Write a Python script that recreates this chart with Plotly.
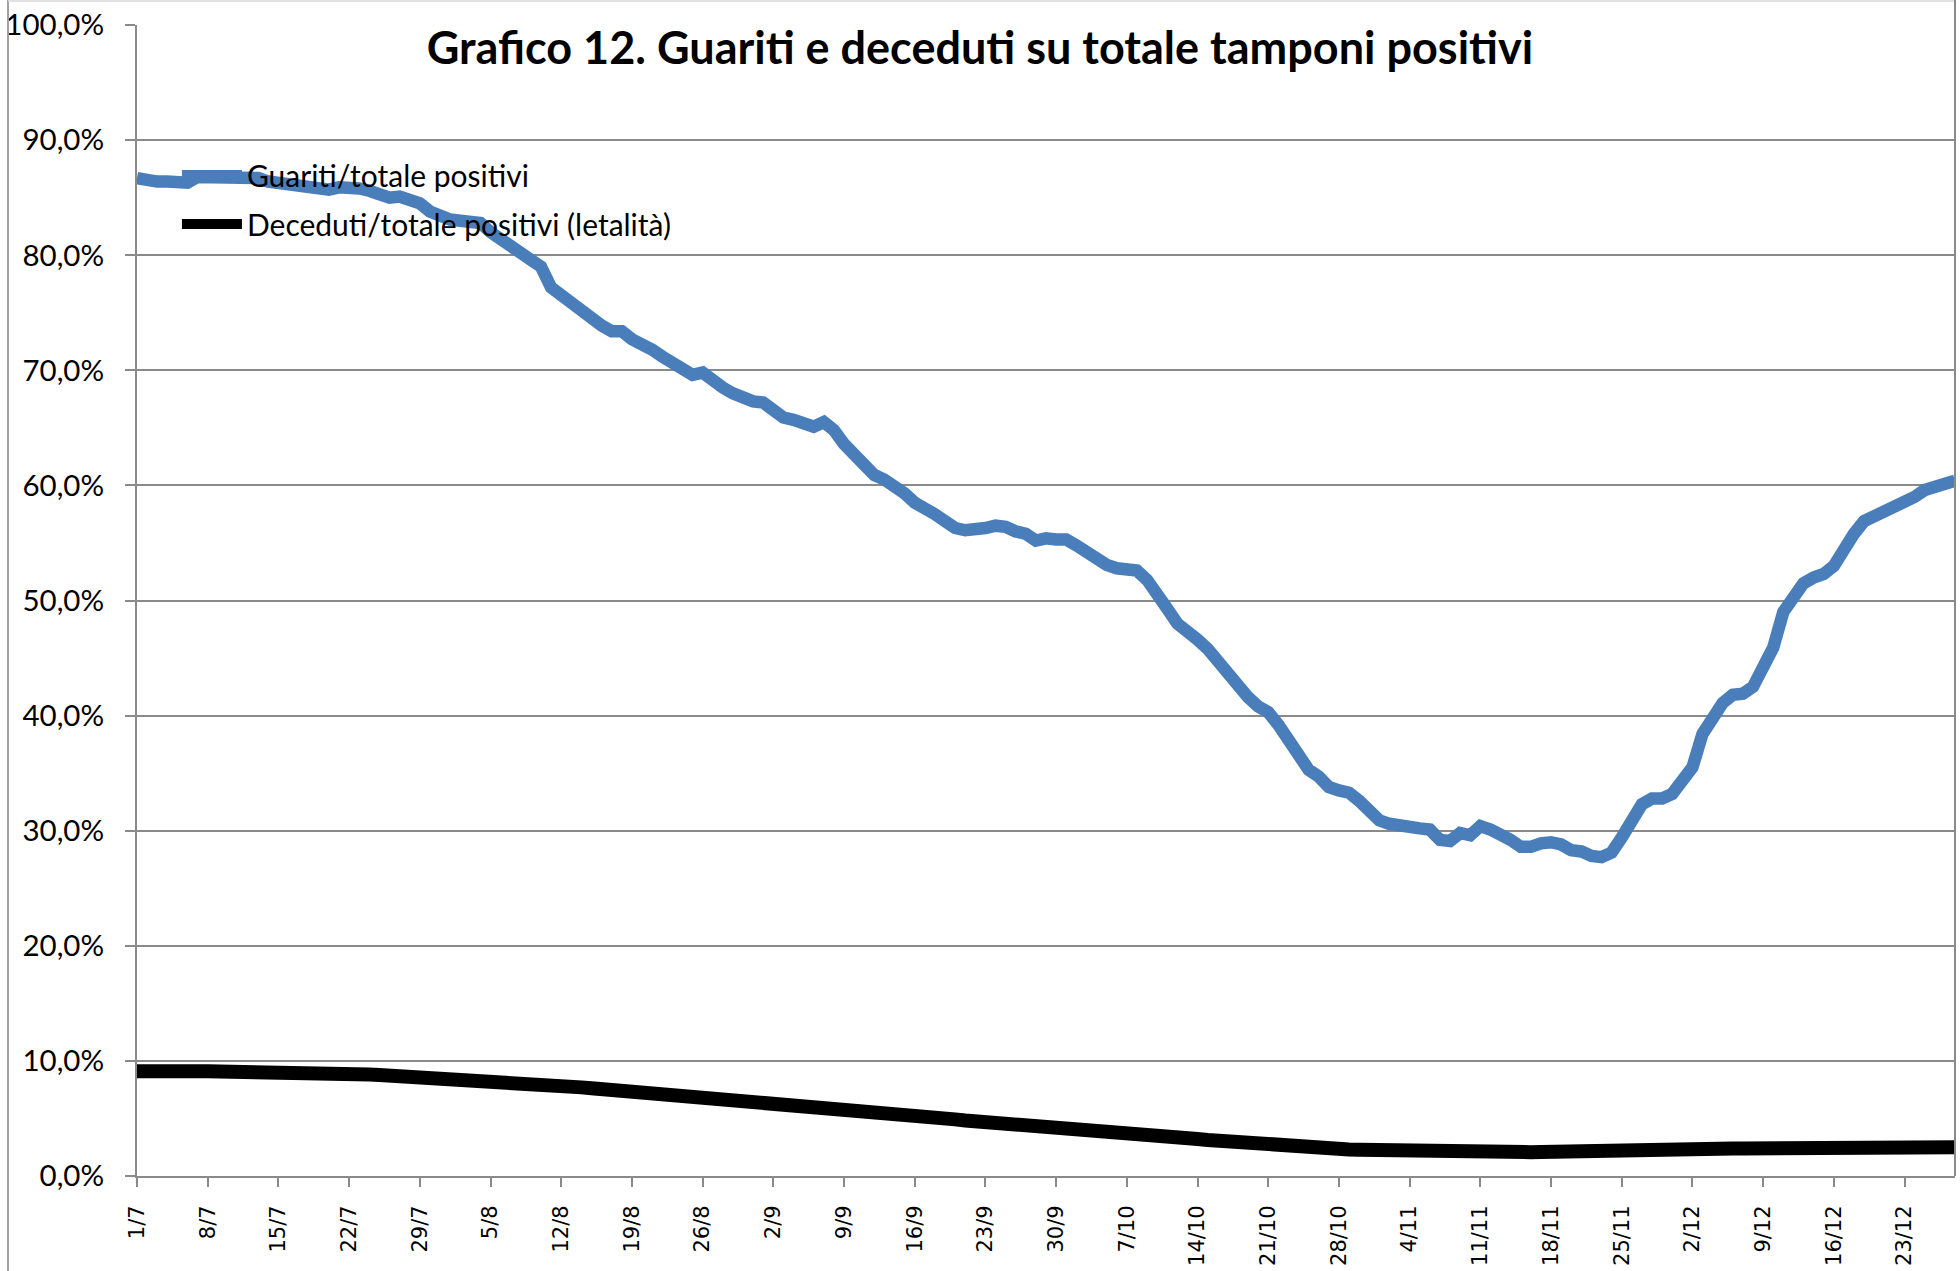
import pandas as pd
import plotly.graph_objects as go

# Dates: 1/7 -> 28/12 (2020), one point per day
dates = pd.date_range("2020-07-01", "2020-12-28", freq="D")

guariti_pct = [
    86.7, 86.5, 86.4, 86.4, 86.3, 86.3, 86.8, 86.8, 86.8, 86.9,
    86.9, 86.9, 86.7, 86.4, 86.3, 86.1, 85.9, 85.8, 85.7, 85.7,
    85.9, 85.9, 85.8, 85.6, 85.3, 85.0, 85.1, 84.9, 84.5, 83.8,
    83.3, 83.1, 83.0, 82.9, 82.8, 82.0, 81.5, 80.7, 80.2, 79.6,
    79.0, 77.2, 76.5, 75.9, 75.2, 74.6, 73.9, 73.4, 73.4, 72.7,
    72.3, 71.8, 71.2, 70.6, 70.1, 69.6, 69.8, 69.0, 68.5, 68.0,
    67.6, 67.3, 67.2, 66.6, 65.9, 65.7, 65.4, 65.1, 65.5, 64.8,
    63.6, 62.7, 61.5, 60.9, 60.5, 60.0, 59.3, 58.5, 58.1, 57.5,
    56.9, 56.3, 56.1, 56.1, 56.3, 56.5, 56.4, 56.0, 55.8, 55.2,
    55.4, 55.3, 55.3, 54.8, 54.2, 53.8, 53.1, 52.8, 52.8, 52.6,
    51.8, 50.7, 49.3, 48.0, 47.4, 46.6, 45.8, 44.7, 43.5, 42.5,
    41.6, 40.8, 40.3, 39.2, 37.9, 36.6, 35.3, 34.7, 33.8, 33.5,
    33.3, 32.6, 31.7, 30.9, 30.6, 30.4, 30.3, 30.2, 30.1, 29.2,
    29.1, 29.8, 29.6, 30.4, 30.1, 29.7, 29.2, 28.6, 28.6, 28.9,
    29.0, 28.8, 28.3, 28.2, 27.8, 27.7, 28.1, 29.4, 30.9, 32.3,
    32.8, 32.8, 33.2, 34.2, 35.5, 38.4, 39.6, 41.1, 41.8, 41.9,
    42.5, 44.2, 45.9, 49.0, 50.4, 51.5, 52.0, 52.3, 53.0, 54.6,
    55.8, 56.9, 57.3, 57.6, 58.1, 58.6, 59.0, 59.6, 59.9, 60.0,
    60.4,
]

deceduti_pct = [
    9.10, 9.05, 9.05, 9.05, 9.05, 9.05, 9.10, 9.10, 9.10, 9.10,
    9.10, 9.10, 9.05, 9.00, 8.97, 8.95, 8.93, 8.92, 8.90, 8.90,
    8.88, 8.86, 8.84, 8.81, 8.77, 8.73, 8.69, 8.64, 8.58, 8.50,
    8.43, 8.39, 8.36, 8.35, 8.34, 8.32, 8.28, 8.22, 8.15, 8.07,
    8.00, 7.90, 7.82, 7.76, 7.70, 7.62, 7.55, 7.50, 7.47, 7.43,
    7.38, 7.32, 7.25, 7.17, 7.08, 6.97, 6.89, 6.83, 6.78, 6.73,
    6.68, 6.62, 6.54, 6.46, 6.37, 6.25, 6.12, 6.02, 5.94, 5.87,
    5.80, 5.73, 5.65, 5.55, 5.46, 5.39, 5.35, 5.31, 5.27, 5.18,
    5.05, 4.92, 4.82, 4.76, 4.72, 4.68, 4.63, 4.58, 4.52, 4.45,
    4.36, 4.28, 4.21, 4.15, 4.10, 4.05, 4.01, 3.95, 3.88, 3.79,
    3.70, 3.60, 3.51, 3.42, 3.32, 3.22, 3.13, 3.05, 2.97, 2.89,
    2.81, 2.74, 2.67, 2.61, 2.56, 2.51, 2.47, 2.43, 2.39, 2.35,
    2.31, 2.28, 2.25, 2.22, 2.19, 2.17, 2.15, 2.13, 2.12, 2.11,
    2.10, 2.09, 2.08, 2.08, 2.08, 2.08, 2.07, 2.07, 2.07, 2.08,
    2.08, 2.09, 2.10, 2.12, 2.15, 2.18, 2.20, 2.22, 2.24, 2.26,
    2.28, 2.30, 2.32, 2.34, 2.35, 2.36, 2.37, 2.38, 2.38, 2.39,
    2.40, 2.40, 2.41, 2.41, 2.42, 2.42, 2.43, 2.43, 2.44, 2.44,
    2.45, 2.45, 2.46, 2.46, 2.47, 2.47, 2.48, 2.48, 2.49, 2.49,
    2.50,
]

series_names = ["Guariti/totale positivi", "Deceduti/totale positivi (letalità)"]
title_text = "Grafico 12. Guariti e deceduti su totale tamponi positivi"

GRID = "#8a8a8a"
BLUE = "#4A7EBB"

W, H = 1960, 1271
L, R, T, B = 134, 5, 25, 95
PW, PH = W - L - R, H - T - B

fig = go.Figure()
fig.add_trace(go.Scatter(
    x=dates, y=[v / 100 for v in guariti_pct], mode="lines",
    name=series_names[0], legendgroup="g1",
    line=dict(color=BLUE, width=12.5),
))
fig.add_trace(go.Scatter(
    x=dates, y=[v / 100 for v in deceduti_pct], mode="lines",
    name=series_names[1], legendgroup="g2",
    line=dict(color="#000000", width=14),
))

fig.update_layout(
    width=W, height=H,
    margin=dict(l=L, r=R, t=T, b=B),
    paper_bgcolor="white", plot_bgcolor="white",
    separators=",.",
    title=dict(
        text="<b>" + title_text + "</b>",
        font=dict(family="Lato", size=45, color="black"),
        x=0.5, xref="container", xanchor="center",
        y=1 - 48 / H, yref="container", yanchor="middle",
    ),
    showlegend=True,
    legend=dict(
        x=(174 - L) / PW, xanchor="left",
        y=1 - (149 - T) / PH, yanchor="top",
        bgcolor="rgba(0,0,0,0)",
        font=dict(family="Lato", size=30, color="black"),
        itemwidth=60,
        tracegroupgap=7,
        traceorder="grouped",
    ),
    xaxis=dict(
        type="date",
        range=[dates[0], dates[-1]],
        tick0=dates[0], dtick=7 * 86400000,
        tickformat="%-d/%-m",
        tickangle=-90,
        tickfont=dict(family="DejaVu Sans", size=21, color="black"),
        ticks="outside", ticklen=9, tickcolor=GRID, tickwidth=2,
        showline=True, linecolor=GRID, linewidth=2,
        showgrid=False, zeroline=False,
        ticklabelstandoff=10,
    ),
    yaxis=dict(
        range=[0, 1], dtick=0.1, tick0=0,
        tickformat=".1%",
        tickfont=dict(family="Lato", size=29.5, color="black"),
        ticks="outside", ticklen=10, tickcolor=GRID, tickwidth=2,
        showline=True, linecolor=GRID, linewidth=2,
        showgrid=True, gridcolor=GRID, gridwidth=2,
        zeroline=False,
        ticklabelstandoff=15,
    ),
    shapes=[
        # outer chart frame lines (left, top, right)
        dict(type="line", xref="paper", yref="paper", xsizemode="pixel", xanchor=0,
             x0=5 - L, x1=5 - L, y0=-0.1, y1=1.03, line=dict(color="#a0a0a0", width=2)),
        dict(type="line", xref="paper", yref="paper", ysizemode="pixel", yanchor=1,
             x0=(5 - L) / PW, x1=1, y0=T - 1, y1=T - 1, line=dict(color="#e2e2e2", width=2)),
        dict(type="line", xref="paper", yref="paper",
             x0=1, x1=1, y0=0, y1=1.03, line=dict(color=GRID, width=2)),
    ],
)

fig.write_html(
    "out.html",
    config={"displayModeBar": False},
    post_script="document.body.style.margin='0';",
)
